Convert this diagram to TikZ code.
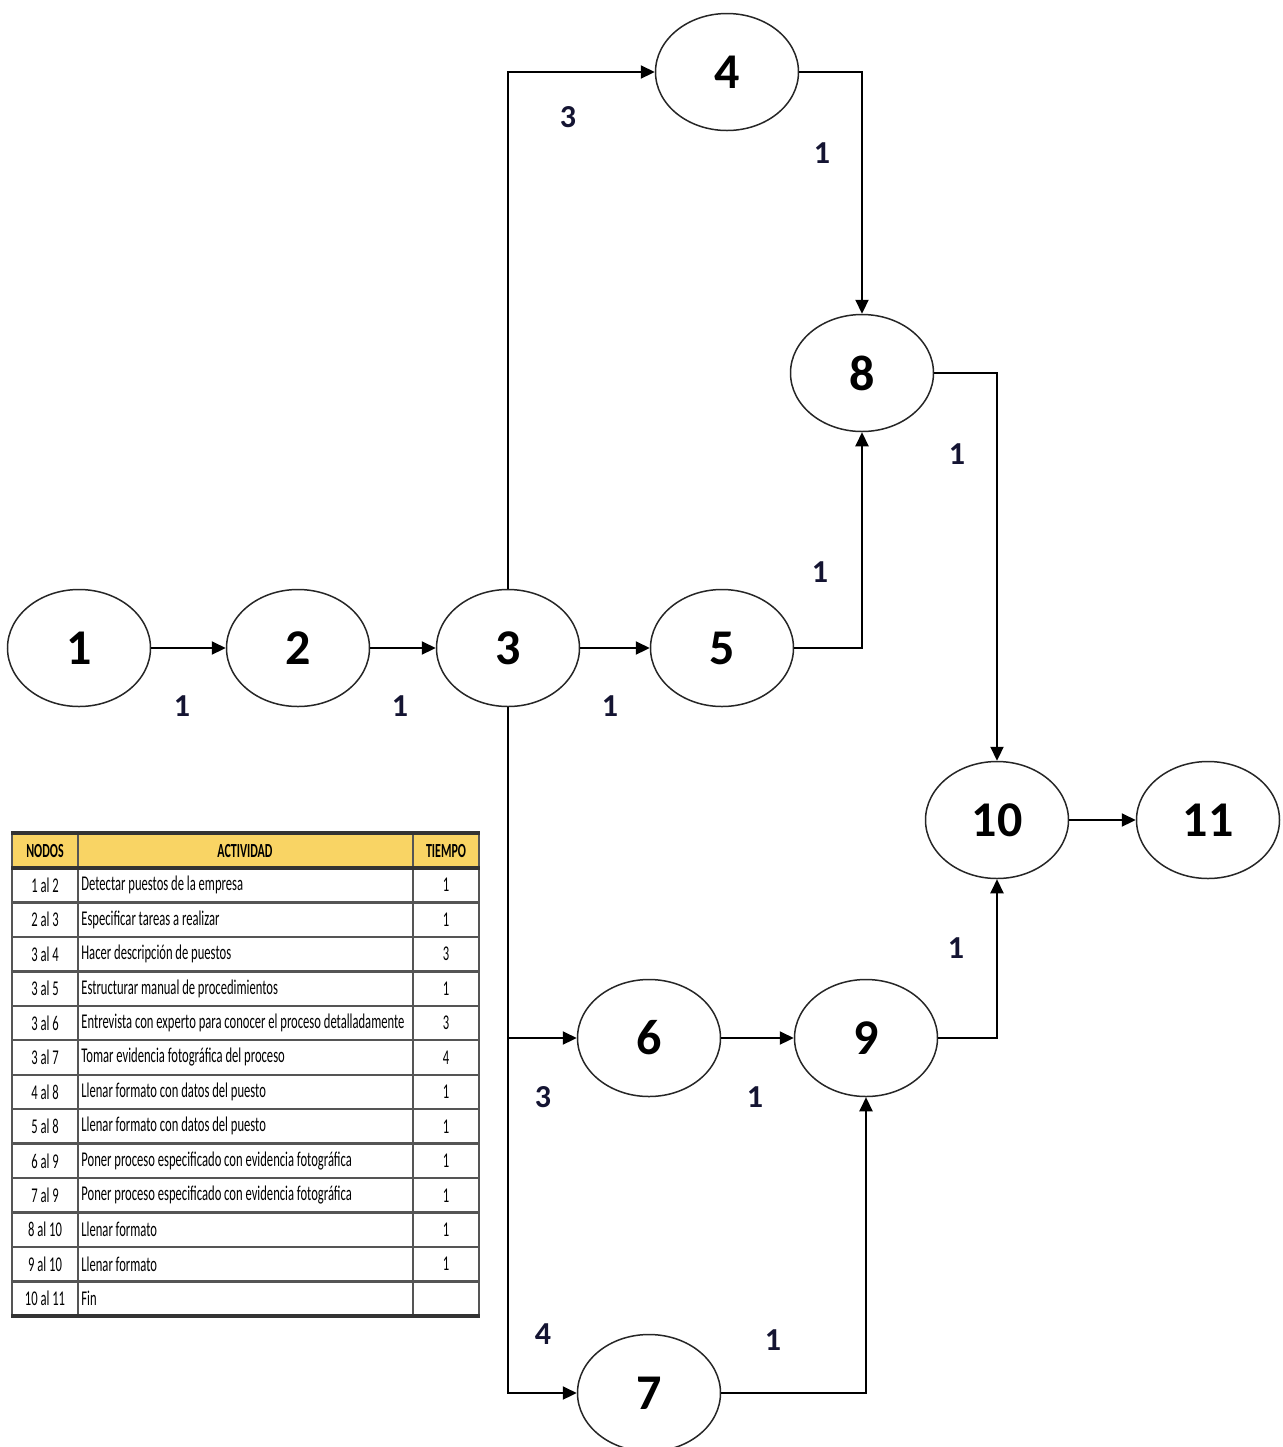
\documentclass[tikz,border=0pt]{standalone}
\usepackage{fontspec}
\setmainfont{Carlito}
\newfontfamily\tabfont[FakeStretch=0.6]{Carlito}
\usetikzlibrary{shapes.geometric,arrows.meta}
\definecolor{headyellow}{RGB}{249,212,100}
\definecolor{labelblue}{RGB}{20,20,50}
\definecolor{gridgray}{RGB}{85,85,85}

\begin{document}
\begin{tikzpicture}[x=0.5pt,y=-0.5pt,
    event/.style={ellipse,draw=black!85,line width=0.75pt,minimum width=71.5pt,
        minimum height=58.5pt,inner sep=0pt,font=\fontsize{25}{25}\selectfont\bfseries},
    act/.style={draw,line width=1.1pt,-{Triangle[length=7pt,width=6.5pt]}},
    dur/.style={text=labelblue,inner sep=0pt,font=\fontsize{16}{16}\selectfont\bfseries},
    cell/.style={inner sep=0pt,font=\tabfont\fontsize{10.5}{10.5}\selectfont},
    headcell/.style={inner sep=0pt,font=\tabfont\fontsize{10}{10}\selectfont\bfseries}]
    \useasboundingbox (0,0) rectangle (1282,1447);

    % events of the network
    \node[event] (n1) at (79,648) {1};
    \node[event] (n2) at (298,648) {2};
    \node[event] (n3) at (508,648) {3};
    \node[event] (n4) at (727,72) {4};
    \node[event] (n5) at (722,648) {5};
    \node[event] (n6) at (649,1038) {6};
    \node[event] (n7) at (649,1393) {7};
    \node[event] (n8) at (862,373) {8};
    \node[event] (n9) at (866,1038) {9};
    \node[event] (n10) at (997,820) {10};
    \node[event] (n11) at (1208,820) {11};

    % activities
    \draw[act] (n1) -- (n2);
    \draw[act] (n2) -- (n3);
    \draw[act] (n3) -- (n5);
    \draw[act] (n3.north) |- (n4.west);
    \draw[act] (n4.east) -| (n8.north);
    \draw[act] (n5.east) -| (n8.south);
    \draw[act] (n8.east) -| (n10.north);
    \draw[act] (n3.south) |- (n6.west);
    \draw[act] (n3.south) |- (n7.west);
    \draw[act] (n6) -- (n9);
    \draw[act] (n7.east) -| (n9.south);
    \draw[act] (n9.east) -| (n10.south);
    \draw[act] (n10) -- (n11);

    % durations
    \node[dur] (d12) at (182,706) {1};
    \node[dur] (d23) at (400,706) {1};
    \node[dur] (d35) at (610,706) {1};
    \node[dur] (d34) at (568,117) {3};
    \node[dur] (d48) at (822,153) {1};
    \node[dur] (d58) at (820,572) {1};
    \node[dur] (d810) at (957,454) {1};
    \node[dur] (d36) at (543,1097) {3};
    \node[dur] (d37) at (543,1334) {4};
    \node[dur] (d69) at (755,1097) {1};
    \node[dur] (d79) at (773,1340) {1};
    \node[dur] (d910) at (956,948) {1};

    % activity table
    \fill[headyellow] (12,833) rectangle (479,868);
    \foreach \i in {1,...,12}
        \draw[gridgray,line width=1.2pt] (12,{868+34.45*\i}) -- (479,{868+34.45*\i});
    \foreach \x in {12,78,413,479}
        \draw[gridgray,line width=1.3pt] (\x,833) -- (\x,1316);
    \draw[black!80,line width=2pt] (11,833) -- (480,833);
    \draw[black!80,line width=2pt] (11,868) -- (480,868);
    \draw[black!80,line width=2pt] (11,1316) -- (480,1316);
    \node[headcell] (hnodos) at (45,851) {NODOS};
    \node[headcell] (hact) at (245,851) {ACTIVIDAD};
    \node[headcell] (htiempo) at (446,851) {TIEMPO};
    \foreach \nd/\ac/\ti [count=\i] in {
        1 al 2/Detectar puestos de la empresa/1,
        2 al 3/Especificar tareas a realizar/1,
        3 al 4/Hacer descripción de puestos/3,
        3 al 5/Estructurar manual de procedimientos/1,
        3 al 6/Entrevista con experto para conocer el proceso detalladamente/3,
        3 al 7/Tomar evidencia fotográfica del proceso/4,
        4 al 8/Llenar formato con datos del puesto/1,
        5 al 8/Llenar formato con datos del puesto/1,
        6 al 9/Poner proceso especificado con evidencia fotográfica/1,
        7 al 9/Poner proceso especificado con evidencia fotográfica/1,
        8 al 10/Llenar formato/1,
        9 al 10/Llenar formato/1,
        10 al 11/Fin/{}} {
        \node[cell] (nd\i) at (45,{868+34.45*(\i-0.5)}) {\nd};
        \node[cell,anchor=west] (ac\i) at (81,{868+34.45*(\i-0.5)}) {\ac};
        \node[cell] (ti\i) at (446,{868+34.45*(\i-0.5)}) {\ti};
    }
\end{tikzpicture}
\end{document}
